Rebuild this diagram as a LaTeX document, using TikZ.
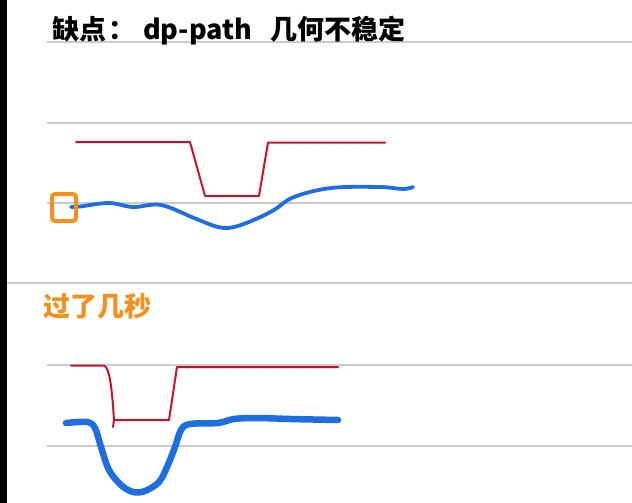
\documentclass[tikz,border=0pt]{standalone}
\usepackage{fontspec}
\newfontfamily\cjk{Noto Sans CJK SC}
\definecolor{rule}{RGB}{200,202,212}
\definecolor{pen red}{RGB}{200,20,40}
\definecolor{pen blue}{RGB}{30,110,225}
\definecolor{pen orange}{RGB}{243,145,30}
\tikzset{
  ruleline/.style={draw=rule, line width=1.4pt},
  redpen/.style={draw=pen red, line width=2pt, line join=round, line cap=round},
  bluepen/.style={draw=pen blue, line cap=round, line join=round},
  hand/.style={font=\cjk\bfseries\fontsize{27}{27}\selectfont, inner sep=0pt}
}
\begin{document}
\begin{tikzpicture}[x=1pt,y=-1pt]
\fill[white] (0,0) rectangle (632,503);
\useasboundingbox (0,0) rectangle (632,503);
\fill[black] (0,0) rectangle (7,503);
% ruled lines
\foreach \y in {42,123,203,365,446} \draw[ruleline] (47,\y) -- (632,\y);
\draw[ruleline] (7,283) -- (632,283);
% title
\node[hand, anchor=base west] (title) at (52,40) {缺点\hspace{2pt}：\hspace{8pt}dp-path\hspace{18pt}几何不稳定};
% upper red
\draw[redpen] (76,142) -- (190,142) -- (205,196) -- (259,196) -- (268,142.5) -- (385,142.5);
% upper blue
\draw[bluepen, line width=3.8pt] plot[smooth, tension=0.6] coordinates {(71,207) (80,206.5) (109,203) (133,207) (161,205) (194,218) (218,227) (234,227) (256,219) (274,210) (294,197) (331,188) (379,187) (403,189) (413,187)};
% orange box
\draw[draw=pen orange, line width=4pt, rounded corners=3pt] (52,194) rectangle (76,221);
\node[coordinate] (box) at (64,207) {};
% orange text
\node[hand, text=pen orange, anchor=base west] (later) at (43,316) {过了几秒};
% lower red
\draw[redpen] (71,365.5) -- (104,365.5) .. controls (110,368) and (112,390) .. (114,420) -- (169,420) -- (177,367) -- (338,367);
\draw[redpen] (114,420) -- (113,427);
% lower blue
\draw[bluepen, line width=6.5pt] plot[smooth, tension=0.55] coordinates {(66,423) (87,422) (95,428) (101,447) (109,470) (121,485) (133,492) (145,491) (159,482) (167,467) (175,447) (181,430) (190,424) (218,423) (234,419) (258,418) (290,419) (338,420)};
\end{tikzpicture}
\end{document}
